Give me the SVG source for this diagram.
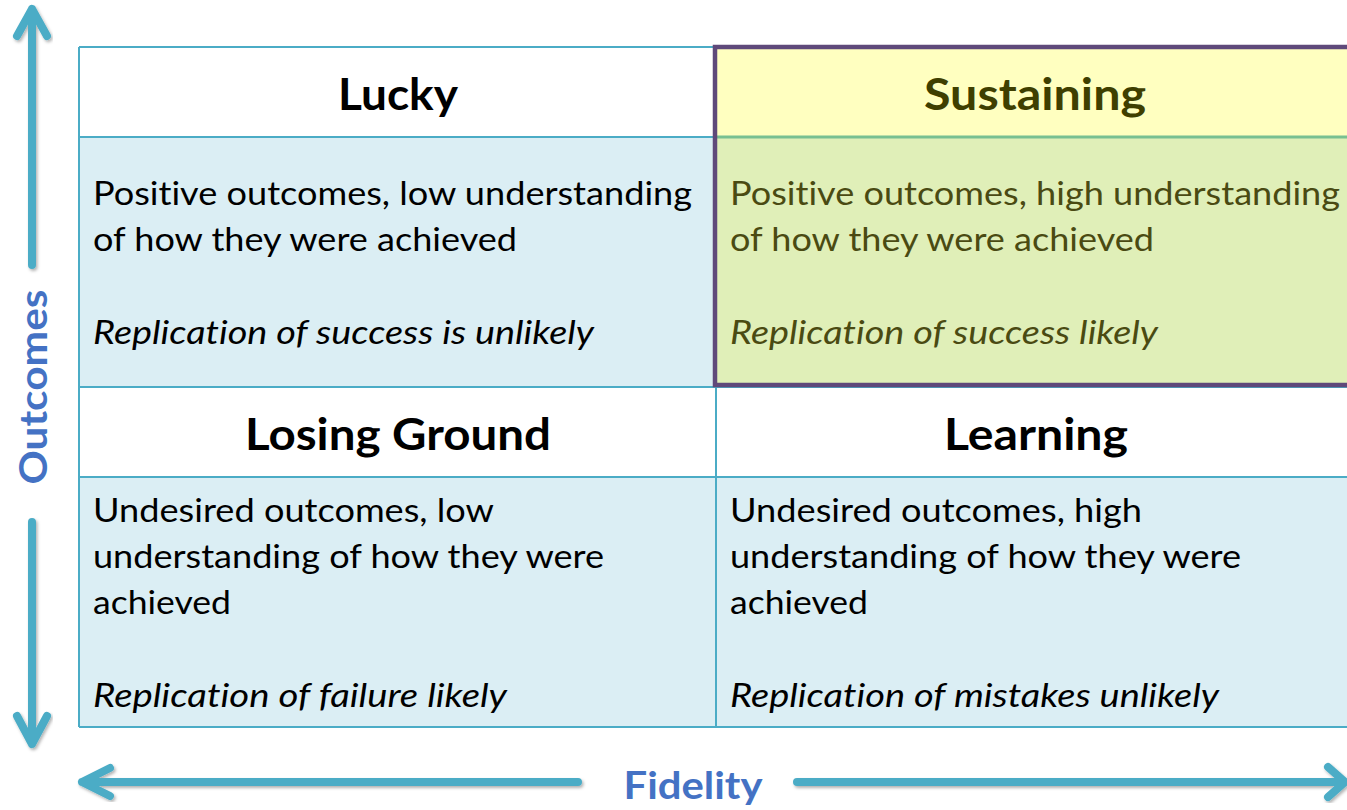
<svg xmlns="http://www.w3.org/2000/svg" width="1347" height="810" viewBox="0 0 1347 810">
<defs>
<style>
text{font-variant-ligatures:none;font-feature-settings:"liga" 0}
.hd{font-family:Lato,"Open Sans",sans-serif;font-weight:700;font-size:44px;fill:#000;text-anchor:middle}
.bd{font-family:Lato,"Open Sans",sans-serif;font-size:32px;fill:#000}
.it{font-style:italic}
.sus{fill:#3f3f00}
.susb{fill:#4a4a12}
.ax{font-family:Lato,"Open Sans",sans-serif;font-weight:700;font-size:38px;fill:#4472c4;text-anchor:middle}
.arr{stroke:#4bacc6;stroke-width:8;fill:none;stroke-linecap:round;stroke-linejoin:round;filter:url(#sh)}
.grid{stroke:#4bacc6;stroke-width:2;fill:none}
</style>
<filter id="sh" x="-20%" y="-20%" width="140%" height="140%">
<feDropShadow dx="1.5" dy="2" stdDeviation="1.5" flood-color="#000" flood-opacity="0.3"/>
</filter>
</defs>
<rect width="1347" height="810" fill="#fff"/>

<g id="lucky">
<rect x="79" y="47" width="637" height="90" fill="#fff"/>
<rect x="79" y="137" width="637" height="250" fill="#dbeef4"/>
<text class="hd" x="398" y="110" textLength="120" lengthAdjust="spacingAndGlyphs">Lucky</text>
<text class="bd" x="93" y="205" textLength="599" lengthAdjust="spacingAndGlyphs">Positive outcomes, low understanding</text>
<text class="bd" x="93" y="251" textLength="424" lengthAdjust="spacingAndGlyphs">of how they were achieved</text>
<text class="bd it" x="93" y="344" textLength="501" lengthAdjust="spacingAndGlyphs">Replication of success is unlikely</text>
</g>

<g id="losing-ground">
<rect x="79" y="387" width="637" height="90" fill="#fff"/>
<rect x="79" y="477" width="637" height="250" fill="#dbeef4"/>
<text class="hd" x="398" y="450" textLength="306" lengthAdjust="spacingAndGlyphs">Losing Ground</text>
<text class="bd" x="93" y="522" textLength="401" lengthAdjust="spacingAndGlyphs">Undesired outcomes, low</text>
<text class="bd" x="93" y="568" textLength="511" lengthAdjust="spacingAndGlyphs">understanding of how they were</text>
<text class="bd" x="93" y="614" textLength="138" lengthAdjust="spacingAndGlyphs">achieved</text>
<text class="bd it" x="93" y="707" textLength="414" lengthAdjust="spacingAndGlyphs">Replication of failure likely</text>
</g>

<g id="learning">
<rect x="716" y="387" width="640" height="90" fill="#fff"/>
<rect x="716" y="477" width="640" height="250" fill="#dbeef4"/>
<text class="hd" x="1036" y="450" textLength="184" lengthAdjust="spacingAndGlyphs">Learning</text>
<text class="bd" x="730" y="522" textLength="412" lengthAdjust="spacingAndGlyphs">Undesired outcomes, high</text>
<text class="bd" x="730" y="568" textLength="511" lengthAdjust="spacingAndGlyphs">understanding of how they were</text>
<text class="bd" x="730" y="614" textLength="138" lengthAdjust="spacingAndGlyphs">achieved</text>
<text class="bd it" x="730" y="707" textLength="489" lengthAdjust="spacingAndGlyphs">Replication of mistakes unlikely</text>
</g>

<g id="grid">
<path class="grid" d="M79 47H716M79 387H1356M79 477H1356M79 727H1356M79 47V727M716 387V727"/>
<path class="grid" stroke-width="3" d="M79 137H716"/>
</g>

<g id="sustaining">
<rect x="716" y="47" width="640" height="90" fill="#ffffc0"/>
<rect x="716" y="137" width="640" height="248" fill="#e0efb8"/>
<line x1="716" y1="137" x2="1356" y2="137" stroke="#78c091" stroke-width="3"/>
<rect x="715" y="47" width="660" height="338" fill="none" stroke="#5f497a" stroke-width="4.5"/>
<text class="hd sus" x="1035" y="110" textLength="222" lengthAdjust="spacingAndGlyphs">Sustaining</text>
<text class="bd susb" x="730" y="205" textLength="610" lengthAdjust="spacingAndGlyphs">Positive outcomes, high understanding</text>
<text class="bd susb" x="730" y="251" textLength="424" lengthAdjust="spacingAndGlyphs">of how they were achieved</text>
<text class="bd it susb" x="730" y="344" textLength="428" lengthAdjust="spacingAndGlyphs">Replication of success likely</text>
</g>

<g id="connectors">
<path class="arr" d="M32 265V9M17 36L32 9L47 36"/>
<path class="arr" d="M32 522V744M17 716L32 744L47 716"/>
<path class="arr" d="M578 782H82M110 768L82 782L110 796"/>
<path class="arr" d="M797 782H1344M1328 767L1345 782L1328 797"/>
</g>

<g id="axis-labels">
<text class="ax" transform="translate(47 387) rotate(-90)" x="0" y="0" textLength="195" lengthAdjust="spacingAndGlyphs">Outcomes</text>
<text class="ax" x="693" y="799" textLength="139" lengthAdjust="spacingAndGlyphs">Fidelity</text>
</g>
</svg>
